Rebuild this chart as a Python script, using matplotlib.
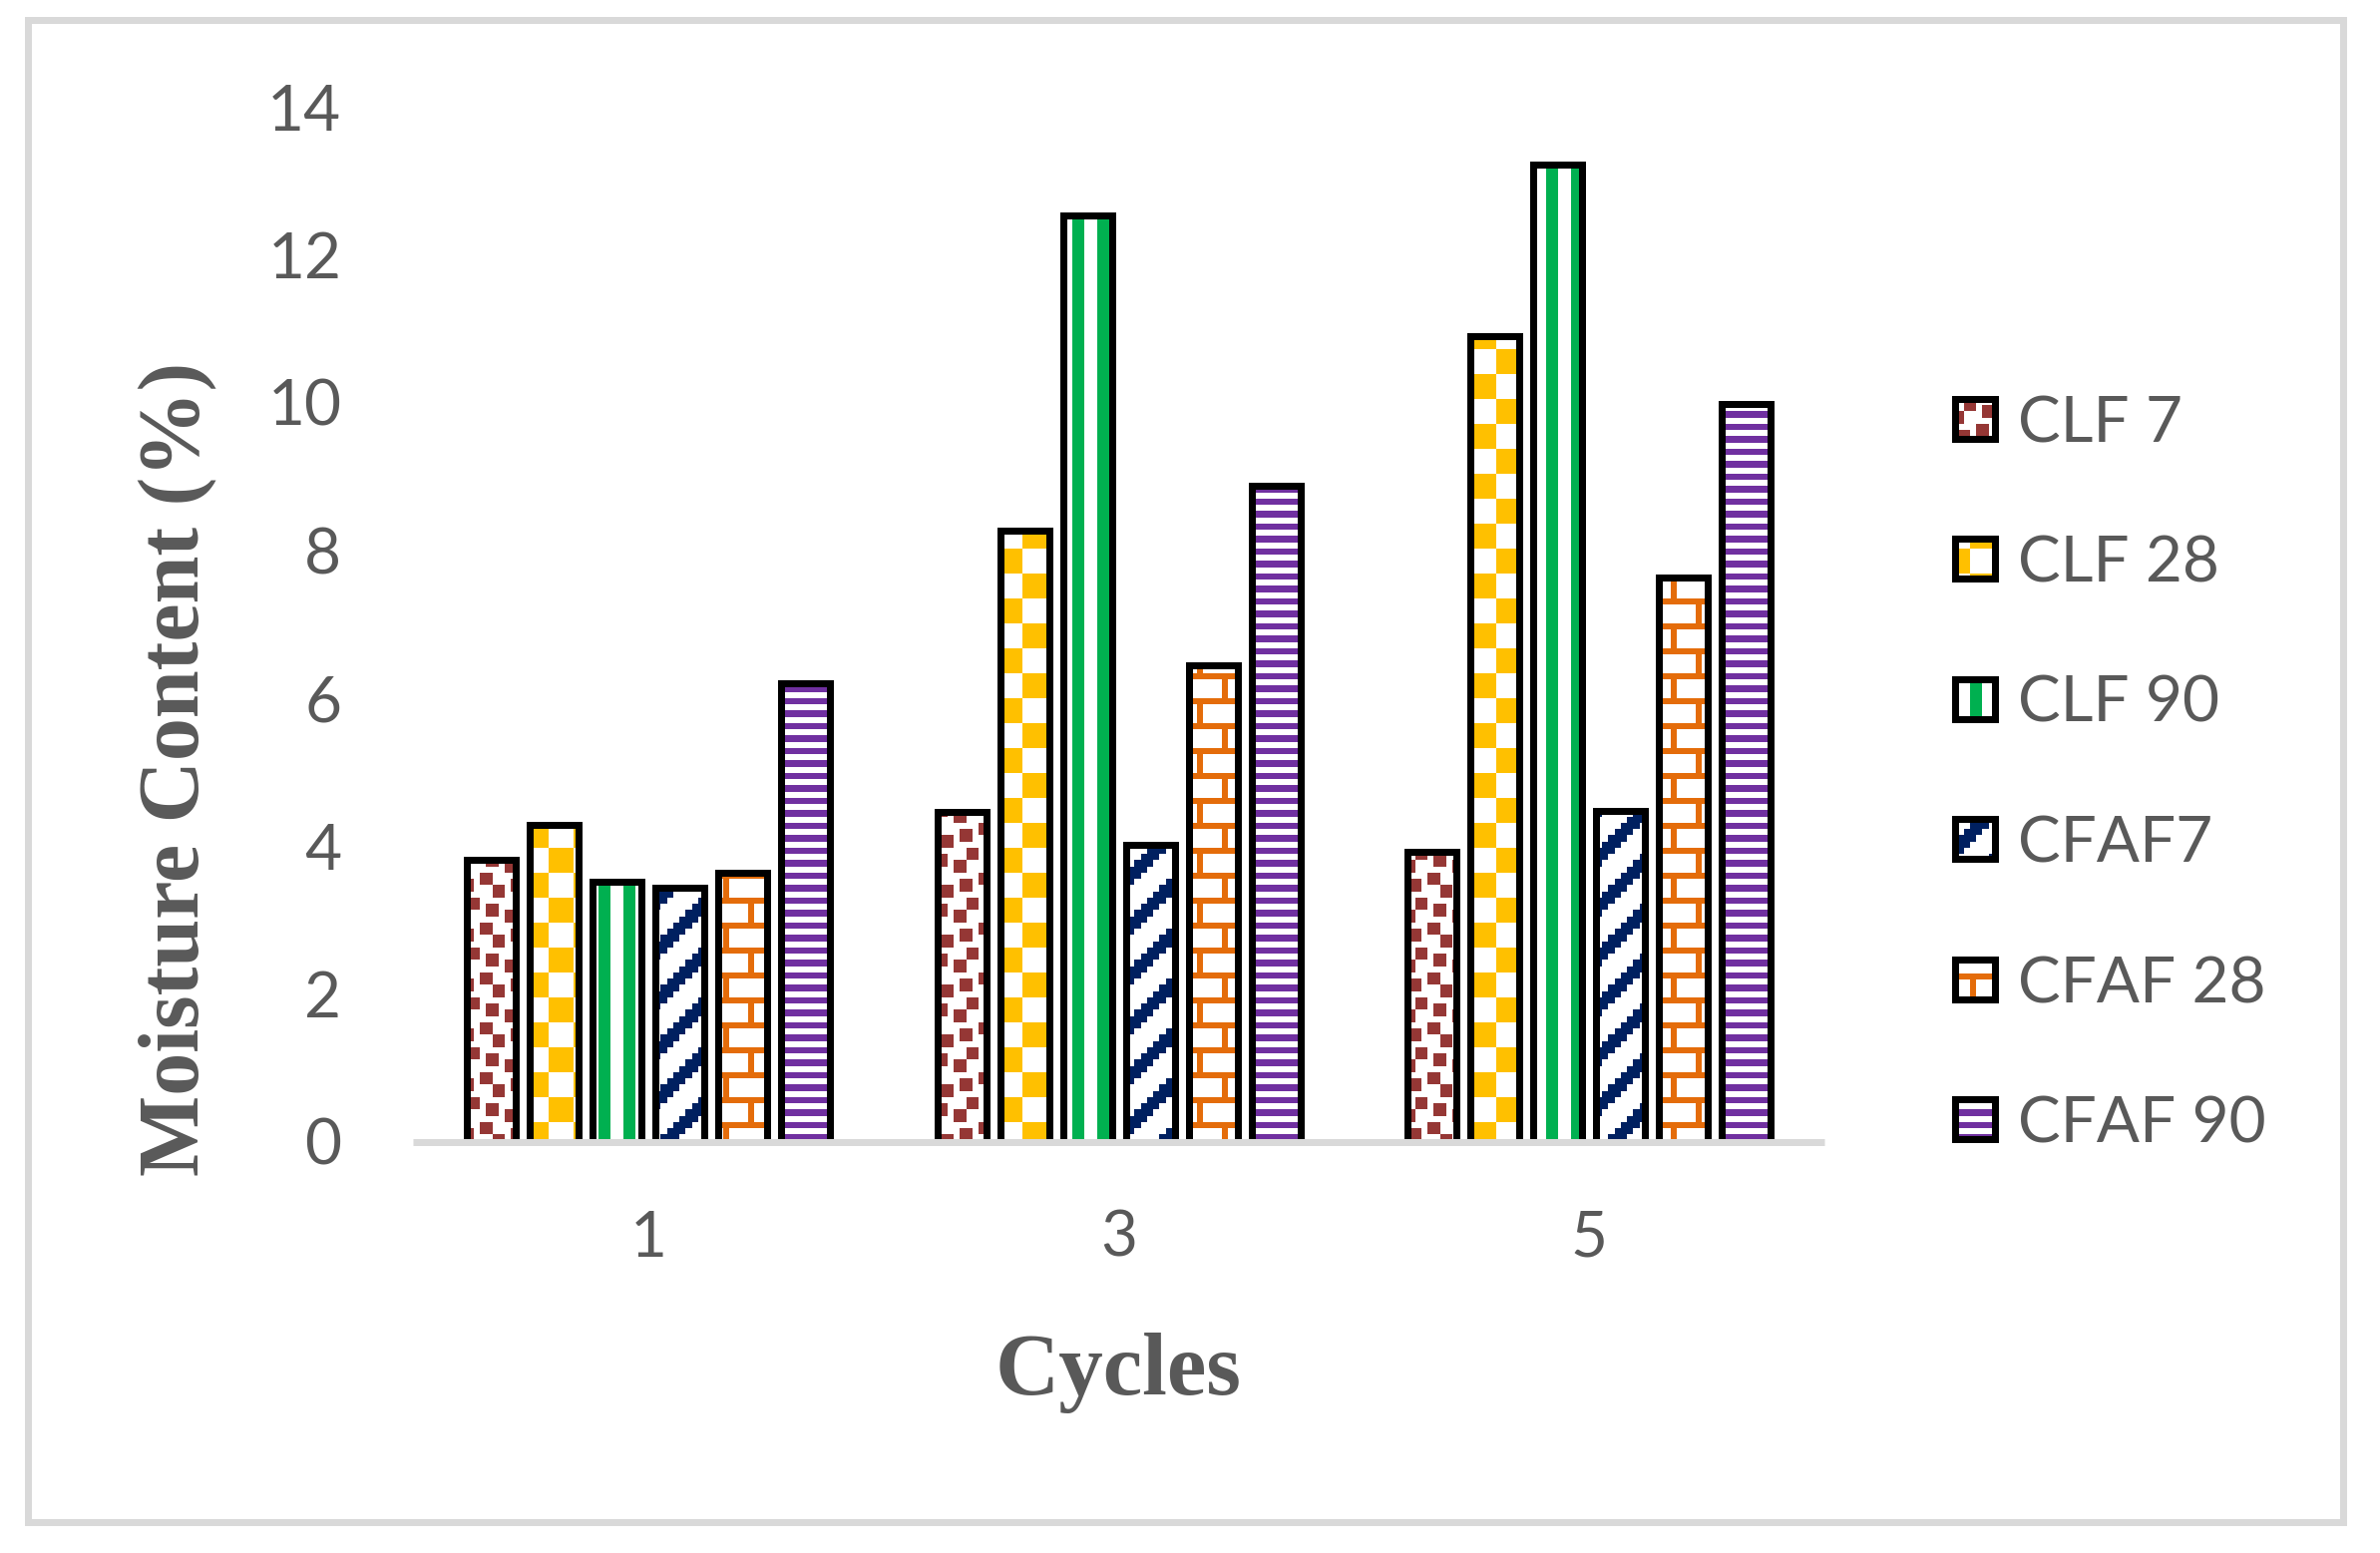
import numpy as np
import matplotlib
matplotlib.use("Agg")
import matplotlib.pyplot as plt
from matplotlib.patches import Rectangle

# --- data --------------------------------------------------------------
CYCLES = ["1", "3", "5"]
SERIES = ["CLF 7", "CLF 28", "CLF 90", "CFAF7", "CFAF 28", "CFAF 90"]
CLF_7 = [3.81, 4.46, 3.92]
CLF_28 = [4.28, 8.26, 10.90]
CLF_90 = [3.51, 12.53, 13.22]
CFAF_7 = [3.44, 4.01, 4.48]
CFAF_28 = [3.63, 6.45, 7.63]
CFAF_90 = [6.20, 8.87, 9.98]
VALUES = [CLF_7, CLF_28, CLF_90, CFAF_7, CFAF_28, CFAF_90]
Y_TICKS = [0, 2, 4, 6, 8, 10, 12, 14]

COLORS = ["#953735", "#FFC000", "#00B050", "#002060", "#E46C0A", "#7030A0"]
PATTERNS = ["lgconfetti", "lgcheck", "wdvert", "wdupdiag", "horzbrick", "dkhorz"]

GREY_TXT = "#595959"
GREY_LN = "#D9D9D9"

W, H, DPI = 2386, 1557, 100
CELL = 6.25          # size of one pattern "bitmap pixel" in output pixels
PX = 72.0 / DPI      # points per output pixel
TXT_SIZE = 46

CONFETTI = np.array([[c == "X" for c in row] for row in [
    "...XX...",
    "...XX.XX",
    ".XX...XX",
    ".XX.....",
    ".....XX.",
    "..XX.XX.",
    "X.XX...X",
    "X......X",
]])


def pattern_mask(kind, px, py):
    """Boolean mask for Excel-like 8x8 pattern fills, px/py = pixel coords from top-left."""
    cx = np.floor(px / CELL).astype(int) % 8
    cy = np.floor(py / CELL).astype(int) % 8
    if kind == "lgconfetti":
        return CONFETTI[cy, cx]
    if kind == "lgcheck":
        return ((cx // 4) + (cy // 4)) % 2 == 0
    if kind == "wdvert":
        return cx % 4 < 2
    if kind == "wdupdiag":
        return (cx + cy) % 8 < 3
    if kind == "horzbrick":
        return (cy % 4 == 0) | ((cy < 4) & (cx == 0)) | ((cy >= 4) & (cx == 4))
    if kind == "dkhorz":
        return cy % 2 == 0
    return np.zeros_like(cx, dtype=bool)


def pattern_rgb(kind, color, cols, rows):
    px, py = np.meshgrid(cols, rows)
    m = pattern_mask(kind, px, py)
    rgb = np.ones(m.shape + (3,))
    rgb[m] = matplotlib.colors.to_rgb(color)
    return rgb


def main():
    fig = plt.figure(figsize=(W / DPI, H / DPI), dpi=DPI)

    # outer chart border
    fig.patches.append(Rectangle((27.5 / W, 1 - 1525.5 / H), (2348.5 - 27.5) / W,
                                 (1525.5 - 20) / H, transform=fig.transFigure,
                                 fill=False, edgecolor=GREY_LN, lw=7 * PX,
                                 joinstyle="miter", zorder=0))

    left, right, y0px, y14px = 414.25, 1828.75, 1144.5, 107.0
    ax = fig.add_axes([left / W, 1 - y0px / H, (right - left) / W, (y0px - y14px) / H])

    x = np.arange(len(CYCLES))
    step = 63 / 471.5
    width = 49 / 471.5

    all_bars = []
    for i, (name, vals) in enumerate(zip(SERIES, VALUES)):
        bars = ax.bar(x + (i - 2.5) * step, vals, width, facecolor="none",
                      edgecolor="black", lw=7 * PX, joinstyle="miter", zorder=3,
                      label=name)
        all_bars.append(bars)

    ax.set_xlim(-0.5, 2.5)
    ax.set_ylim(0, 14)

    # pixel-exact pattern fills, clipped to each bar
    inv = ax.transData.inverted()
    for i, bars in enumerate(all_bars):
        for b in bars:
            (bx0, by0), (bx1, by1) = ax.transData.transform(
                [(b.get_x(), 0), (b.get_x() + b.get_width(), b.get_height())])
            c0, c1 = int(np.floor(bx0)), int(np.ceil(bx1))
            r0, r1 = int(np.floor(H - by1)), int(np.ceil(H - by0))
            img = pattern_rgb(PATTERNS[i], COLORS[i], np.arange(c0, c1) + 0.5,
                              np.arange(r0, r1) + 0.5)
            (dx0, dy0), (dx1, dy1) = inv.transform([(c0, H - r1), (c1, H - r0)])
            im = ax.imshow(img, extent=(dx0, dx1, dy0, dy1), origin="upper",
                           interpolation="nearest", aspect="auto", zorder=2)
            im.set_clip_path(b)

    ax.set_xlim(-0.5, 2.5)
    ax.set_ylim(0, 14)

    for s in ["top", "right", "left"]:
        ax.spines[s].set_visible(False)
    ax.spines["bottom"].set_color(GREY_LN)
    ax.spines["bottom"].set_linewidth(7 * PX)
    ax.spines["bottom"].set_zorder(5)
    ax.spines["bottom"].set_capstyle("butt")

    ax.set_xticks(x)
    ax.set_xticklabels(CYCLES)
    ax.set_yticks(Y_TICKS)
    ax.set_yticklabels([str(t) for t in Y_TICKS])
    ax.tick_params(axis="both", length=0, labelsize=TXT_SIZE, labelcolor=GREY_TXT)
    ax.tick_params(axis="y", pad=72 * PX)
    ax.tick_params(axis="x", pad=68 * PX)
    for lab in ax.get_xticklabels() + ax.get_yticklabels():
        lab.set_family("Lato")

    # axis titles
    fig.text(1121.5 / W, 1 - 1398 / H, "Cycles", ha="center", va="baseline",
             family="Liberation Serif", weight="bold", fontsize=64, color=GREY_TXT)
    fig.text(178 / W, 1 - 771 / H, "Moisture Content (%)", rotation=90,
             ha="center", va="center", family="Liberation Serif", weight="bold",
             fontsize=62, color=GREY_TXT)

    # legend: patterned swatches + labels
    centers = [419.5, 560, 700.5, 841, 981.5, 1122]
    for i, (name, cy) in enumerate(zip(SERIES, centers)):
        sx0, sx1 = 1960, 2000
        sy0, sy1 = cy - 20, cy + 20
        sax = fig.add_axes([sx0 / W, 1 - sy1 / H, (sx1 - sx0) / W, (sy1 - sy0) / H])
        img = pattern_rgb(PATTERNS[i], COLORS[i], np.arange(int(sx0), int(sx1)) + 0.5,
                          np.arange(int(sy0), int(sy1)) + 0.5)
        sax.imshow(img, extent=(0, 1, 0, 1), origin="upper",
                   interpolation="nearest", aspect="auto")
        sax.set_xlim(0, 1)
        sax.set_ylim(0, 1)
        sax.set_xticks([])
        sax.set_yticks([])
        for sp in sax.spines.values():
            sp.set_linewidth(7 * PX)
            sp.set_color("black")
        fig.text(2023 / W, 1 - (cy + 23.5) / H, name, ha="left", va="baseline",
                 family="Lato", fontsize=TXT_SIZE, color=GREY_TXT)

    fig.savefig("out.png", dpi=DPI)
    plt.close(fig)


if __name__ == "__main__":
    main()
